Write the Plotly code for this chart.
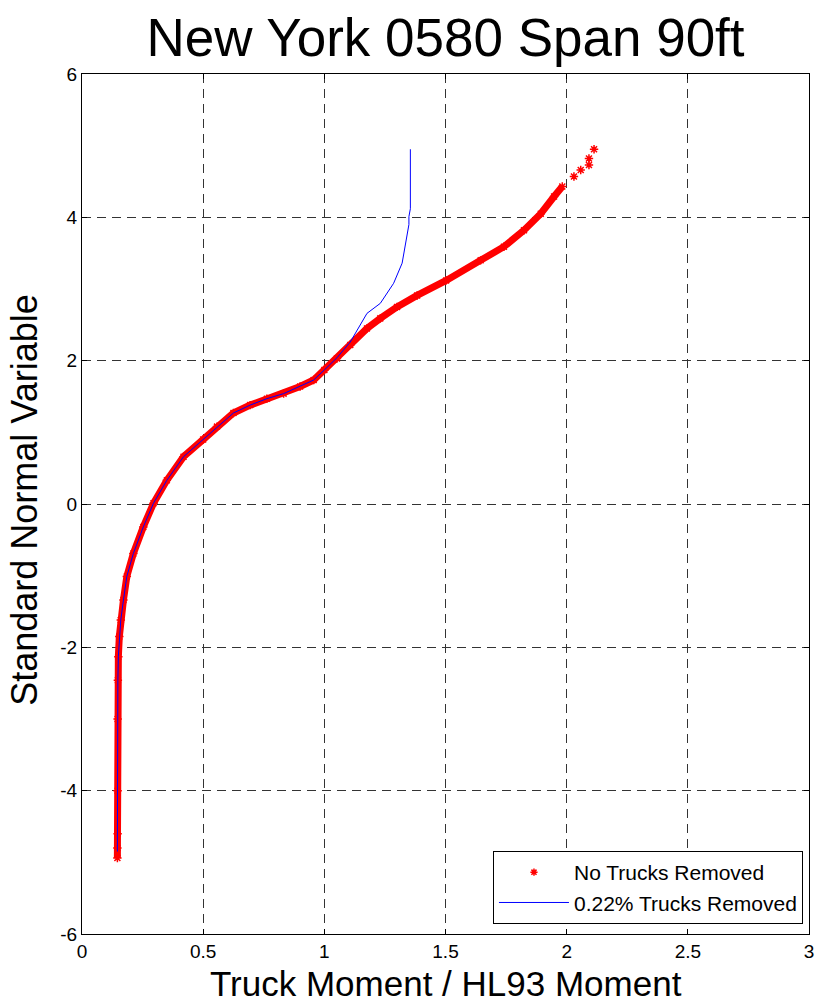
import plotly.graph_objects as go

# Data
red_x = [0.146, 0.146, 0.147, 0.147, 0.147, 0.148, 0.150, 0.154, 0.160, 0.171, 0.185, 0.212,
         0.253, 0.295, 0.350, 0.419, 0.500, 0.557, 0.625, 0.694, 0.763, 0.832, 0.900, 0.956,
         1.000, 1.052, 1.107, 1.176, 1.231, 1.300, 1.383, 1.503, 1.645, 1.741, 1.824, 1.893,
         1.948, 1.982, 2.030, 2.058, 2.092, 2.092, 2.113]
red_y = [-4.94, -4.80, -4.60, -4.00, -3.00, -2.46, -2.13, -1.85, -1.62, -1.34, -1.01, -0.69,
         -0.32, 0.01, 0.33, 0.66, 0.90, 1.08, 1.27, 1.38, 1.47, 1.54, 1.64, 1.73,
         1.87, 2.03, 2.22, 2.45, 2.59, 2.75, 2.91, 3.12, 3.40, 3.59, 3.82, 4.05,
         4.29, 4.43, 4.57, 4.66, 4.73, 4.82, 4.95]

blue_x = [0.146, 0.146, 0.147, 0.147, 0.148, 0.150, 0.154, 0.160, 0.171, 0.185, 0.212,
          0.253, 0.295, 0.350, 0.419, 0.500, 0.557, 0.625, 0.694, 0.763, 0.832, 0.900, 0.956,
          1.000, 1.052, 1.107, 1.176, 1.231, 1.286, 1.321, 1.339, 1.349, 1.349, 1.355, 1.355]
blue_y = [-4.85, -4.60, -4.00, -3.00, -2.46, -2.13, -1.85, -1.62, -1.34, -1.01, -0.69,
          -0.32, 0.01, 0.33, 0.66, 0.90, 1.08, 1.27, 1.38, 1.47, 1.54, 1.64, 1.73,
          1.87, 2.04, 2.26, 2.66, 2.80, 3.08, 3.36, 3.68, 3.90, 4.01, 4.12, 4.95]

x_ticks = [0, 0.5, 1, 1.5, 2, 2.5, 3]
x_tick_labels = ["0", "0.5", "1", "1.5", "2", "2.5", "3"]
y_ticks = [-6, -4, -2, 0, 2, 4, 6]
y_tick_labels = ["-6", "-4", "-2", "0", "2", "4", "6"]

title_text = "New York 0580 Span 90ft"
x_title = "Truck Moment / HL93 Moment"
y_title = "Standard Normal Variable"
names = ["No Trucks Removed", "0.22% Trucks Removed"]

FONT = "Arial, Liberation Sans, sans-serif"
RED = "#ff0000"
BLUE = "#0000ff"

split = 37  # band part vs. sparse tail markers

fig = go.Figure()
# dense band (many overlapping markers in the original)
fig.add_trace(go.Scatter(x=red_x[:split + 1], y=red_y[:split + 1], mode="lines",
                         line=dict(color=RED, width=7), showlegend=False,
                         hoverinfo="skip"))
fig.add_trace(go.Scatter(x=red_x, y=red_y, mode="markers",
                         marker=dict(symbol="asterisk-open", size=7,
                                     line=dict(color=RED, width=1.5), color=RED),
                         showlegend=False))
# legend-only entry for red markers
fig.add_trace(go.Scatter(x=[None], y=[None], mode="markers", name=names[0],
                         legendgroup="a",
                         marker=dict(symbol="asterisk-open", size=6,
                                     line=dict(color=RED, width=1.5), color=RED)))
fig.add_trace(go.Scatter(x=blue_x, y=blue_y, mode="lines", name=names[1],
                         legendgroup="b",
                         line=dict(color=BLUE, width=1)))

axis_common = dict(
    showline=True, linecolor="black", linewidth=1, mirror="ticks",
    ticks="inside", ticklen=5, tickcolor="black",
    showgrid=True, gridcolor="#333333", gridwidth=1, griddash="9px,6px",
    zeroline=False, tickfont=dict(family=FONT, size=19, color="black"),
)

fig.update_xaxes(range=[0, 3], tickvals=x_ticks, ticktext=x_tick_labels, **axis_common)
fig.update_yaxes(range=[-6, 6], tickvals=y_ticks, ticktext=y_tick_labels, **axis_common)

fig.update_layout(
    width=820, height=1004,
    margin=dict(l=82, r=6, t=74, b=70),
    paper_bgcolor="white", plot_bgcolor="white",
    font=dict(family=FONT, color="black"),
    title=dict(text=title_text, x=0.5, xref="paper", y=1 - 37 / 1004, yref="container",
               xanchor="center", yanchor="middle",
               font=dict(family=FONT, size=53, color="black")),
    legend=dict(x=0.9917, y=0.0116, xanchor="right", yanchor="bottom",
                bordercolor="black", borderwidth=1, bgcolor="white",
                font=dict(family=FONT, size=21, color="black"),
                tracegroupgap=0, itemwidth=70),
    annotations=[
        dict(text=x_title, x=0.5, y=-(983 - 934) / 860, xref="paper", yref="paper",
             xanchor="center", yanchor="middle", showarrow=False,
             font=dict(family=FONT, size=35, color="black")),
        dict(text=y_title, x=(25 - 83) / 725, y=(934 - 500) / 860, xref="paper", yref="paper",
             xanchor="center", yanchor="middle", showarrow=False, textangle=-90,
             font=dict(family=FONT, size=36, color="black")),
    ],
)

fig.write_html("out.html")
